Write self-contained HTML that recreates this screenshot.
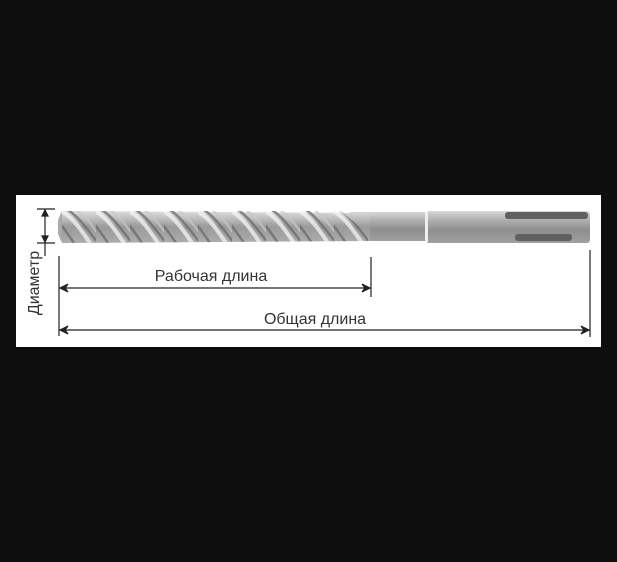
<!DOCTYPE html>
<html><head><meta charset="utf-8"><style>
html,body{margin:0;padding:0;background:#0e0e0e;width:617px;height:562px;overflow:hidden}
svg{display:block}
text{font-family:"Liberation Sans",sans-serif;fill:#333}
</style></head><body>
<svg width="617" height="562" viewBox="0 0 617 562">
<defs>
<linearGradient id="g" x1="0" y1="0" x2="0" y2="1">
<stop offset="0" stop-color="#d8d8d8"/><stop offset="0.3" stop-color="#adadad"/><stop offset="0.6" stop-color="#8e8e8e"/><stop offset="1" stop-color="#a0a0a0"/>
</linearGradient>
<linearGradient id="f" x1="0" y1="0" x2="0" y2="1">
<stop offset="0" stop-color="#dedede"/><stop offset="0.5" stop-color="#9a9a9a"/><stop offset="1" stop-color="#adadad"/>
</linearGradient>
<pattern id="fl" x="62" y="210" width="34" height="33" patternUnits="userSpaceOnUse">
<path d="M-4 0 C8 4 18 18 28 33" stroke="#f4f4f4" stroke-width="4" fill="none"/>
<path d="M6 0 C16 6 26 20 36 33" stroke="#6a6a6a" stroke-width="2.5" fill="none"/>
<path d="M-20 0 C-8 4 2 18 12 33" stroke="#6a6a6a" stroke-width="2.5" fill="none"/>
<path d="M14 0 C24 6 32 18 40 30" stroke="#c8c8c8" stroke-width="2" fill="none"/>
</pattern>
</defs>
<rect x="16" y="195" width="585" height="152" fill="#fff"/>
<rect x="350" y="212" width="78" height="29" fill="url(#g)"/>
<rect x="426" y="211" width="164" height="32" rx="3" fill="url(#g)"/>
<rect x="425" y="212" width="3" height="30" fill="#eee"/>
<rect x="505" y="212" width="83" height="7" rx="3" fill="#606060"/>
<rect x="515" y="234" width="57" height="7" rx="3" fill="#606060"/>
<path d="M62 211 L370 213 L370 241 L62 243 Z" fill="url(#f)"/>
<path d="M62 211 L340 211 Q360 225 372 241 L62 243 Z" fill="url(#fl)" opacity="0.75"/>
<path d="M58 220 L62 211 L62 243 L58 234 Z" fill="#aaa"/>
<g stroke="#222" stroke-width="1.2" fill="#222">
<line x1="37" y1="209" x2="55" y2="209"/><line x1="37" y1="243" x2="55" y2="243"/>
<line x1="45" y1="209" x2="45" y2="256"/>
<path d="M45 210 l-3 6 h6z"/><path d="M45 242 l-3 -6 h6z"/>
<line x1="59" y1="256" x2="59" y2="336"/>
<line x1="371" y1="257" x2="371" y2="297"/>
<line x1="590" y1="250" x2="590" y2="337"/>
<line x1="59" y1="288" x2="371" y2="288"/>
<line x1="59" y1="330" x2="590" y2="330"/>
<path d="M60 288 l8 -4 l-3 4 l3 4z"/><path d="M370 288 l-8 -4 l3 4 l-3 4z"/>
<path d="M60 330 l8 -4 l-3 4 l3 4z"/><path d="M589 330 l-8 -4 l3 4 l-3 4z"/>
</g>
<text x="211" y="281" font-size="16" text-anchor="middle">Рабочая длина</text>
<text x="315" y="324" font-size="16" text-anchor="middle">Общая длина</text>
<text transform="translate(39,283) rotate(-90)" font-size="16" text-anchor="middle">Диаметр</text>
</svg>
</body></html>
